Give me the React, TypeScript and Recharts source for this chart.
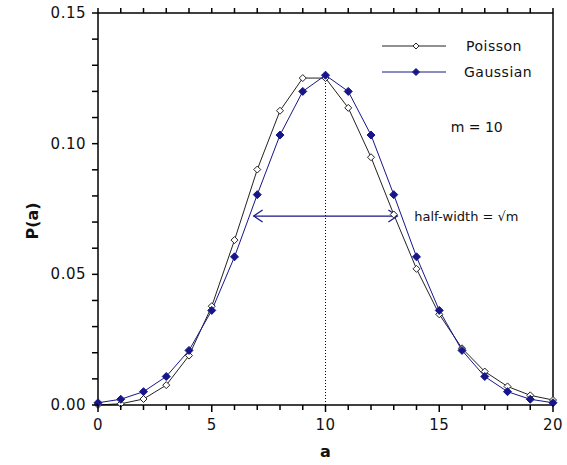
import { LineChart, Line, XAxis, YAxis, ReferenceLine, ReferenceDot, Legend } from "recharts";

const A_VALUES = [0, 1, 2, 3, 4, 5, 6, 7, 8, 9, 10, 11, 12, 13, 14, 15, 16, 17, 18, 19, 20];
const POISSON = [
  0.00005, 0.00045, 0.0023, 0.0076, 0.0189, 0.0378, 0.0631, 0.0901, 0.1126, 0.1251, 0.1251,
  0.1137, 0.0948, 0.0729, 0.0521, 0.0347, 0.0217, 0.0128, 0.0071, 0.0037, 0.0019,
];
const GAUSSIAN = [
  0.00085, 0.0022, 0.0051, 0.0109, 0.0209, 0.0362, 0.0567, 0.0805, 0.1033, 0.12, 0.1262,
  0.12, 0.1033, 0.0805, 0.0567, 0.0362, 0.0209, 0.0109, 0.0051, 0.0022, 0.00085,
];
const X_TICKS = [0, 1, 2, 3, 4, 5, 6, 7, 8, 9, 10, 11, 12, 13, 14, 15, 16, 17, 18, 19, 20];
const Y_TICKS = [
  0, 0.01, 0.02, 0.03, 0.04, 0.05, 0.06, 0.07, 0.08, 0.09, 0.1, 0.11, 0.12, 0.13, 0.14, 0.15,
];
const X_MAX = 20;
const Y_MAX = 0.15;
const MEAN = 10;
const HALF_WIDTH = 3.16;
const ARROW_Y = 0.0723;

const NAVY = "#16168a";
const INK = "#000";
const FRAME_W = 1.5;
const FONT = "'DejaVu Sans', sans-serif";

const data = A_VALUES.map((a, i) => ({ a, poisson: POISSON[i], gaussian: GAUSSIAN[i] }));

const diamond = (cx: number, cy: number, r: number) =>
  `M${cx},${cy - r} L${cx + r},${cy} L${cx},${cy + r} L${cx - r},${cy} Z`;

const PoissonDot = (props: any) => (
  <path key={`p-${props.index}`} d={diamond(props.cx, props.cy, 3.5)} fill="#fff" stroke="#222" strokeWidth={1} />
);
const GaussDot = (props: any) => (
  <path key={`g-${props.index}`} d={diamond(props.cx, props.cy, 4)} fill={NAVY} stroke={NAVY} strokeWidth={1} />
);

const XTick = (props: any) => {
  const { x, y, payload } = props;
  const major = payload.value % 5 === 0;
  return (
    <g>
      <line x1={x} y1={y} x2={x} y2={y + (major ? 7 : 5)} stroke={INK} strokeWidth={FRAME_W} />
      {major && (
        <text x={x} y={y + 20} textAnchor="middle" dominantBaseline="central" fontSize={15} fontFamily={FONT} fill="#111" letterSpacing={0.5}>
          {payload.value}
        </text>
      )}
    </g>
  );
};

const YTick = (props: any) => {
  const { x, y, payload } = props;
  const major = Math.round(payload.value * 100) % 5 === 0;
  return (
    <g>
      <line x1={x} y1={y} x2={x - 6} y2={y} stroke={INK} strokeWidth={FRAME_W} />
      {major && (
        <text x={x - 12} y={y} textAnchor="end" dominantBaseline="central" fontSize={15} fontFamily={FONT} fill="#111" letterSpacing={0.5}>
          {payload.value.toFixed(2)}
        </text>
      )}
    </g>
  );
};

// top frame line with outward ticks at every x tick
const TopFrame = (props: any) => {
  const { x1, y1, x2 } = props;
  return (
    <g stroke={INK} strokeWidth={FRAME_W}>
      <line x1={x1} y1={y1} x2={x2} y2={y1} />
      {X_TICKS.map((t) => {
        const x = x1 + ((x2 - x1) * t) / X_MAX;
        return <line key={t} x1={x} y1={y1} x2={x} y2={y1 - 5} />;
      })}
    </g>
  );
};

const Arrow = (props: any) => {
  const { x1, y1, x2, y2 } = props;
  return (
    <g stroke={NAVY} fill="none" strokeWidth={1.2}>
      <line x1={x1} y1={y1} x2={x2} y2={y2} />
      <polyline points={`${x1 + 9},${y1 - 6} ${x1},${y1} ${x1 + 9},${y1 + 6}`} />
      <polyline points={`${x2 - 9},${y2 - 6} ${x2},${y2} ${x2 - 9},${y2 + 6}`} />
    </g>
  );
};

const LegendBox = () => (
  <svg width={180} height={50}>
    <line x1={0} y1={10} x2={64} y2={10} stroke="#222" />
    <path d={diamond(34, 10, 3)} fill="#fff" stroke="#222" />
    <text x={84} y={10} dominantBaseline="central" fontSize={14} fontFamily={FONT} fill="#111" letterSpacing={0.5}>
      Poisson
    </text>
    <line x1={0} y1={36} x2={64} y2={36} stroke={NAVY} />
    <path d={diamond(34, 36, 3.5)} fill={NAVY} stroke={NAVY} />
    <text x={82} y={36} dominantBaseline="central" fontSize={14} fontFamily={FONT} fill="#111" letterSpacing={0.5}>
      Gaussian
    </text>
  </svg>
);

export default function App() {
  return (
    <div style={{ position: "absolute", left: 0, top: 0 }}>
      <LineChart width={567} height={465} data={data} margin={{ top: 13, right: 14, left: 0, bottom: 0 }}>
        <XAxis
          dataKey="a"
          type="number"
          domain={[0, X_MAX]}
          ticks={X_TICKS}
          interval={0}
          height={60}
          tickSize={0}
          tickMargin={0}
          tickLine={false}
          axisLine={{ stroke: INK, strokeWidth: FRAME_W }}
          tick={<XTick />}
          label={(p: any) => {
            const vb = p.viewBox;
            return (
              <text x={vb.x + vb.width / 2} y={vb.y + 46} textAnchor="middle" dominantBaseline="central" fontSize={16} fontWeight="bold" fontFamily={FONT} fill="#111">
                a
              </text>
            );
          }}
        />
        <YAxis
          type="number"
          domain={[0, Y_MAX]}
          ticks={Y_TICKS}
          interval={0}
          width={98}
          tickSize={0}
          tickMargin={0}
          tickLine={false}
          axisLine={{ stroke: INK, strokeWidth: FRAME_W }}
          tick={<YTick />}
          label={(p: any) => {
            const vb = p.viewBox;
            const cx = 32;
            const cy = vb.y + vb.height / 2 + 12;
            return (
              <text x={cx} y={cy} transform={`rotate(-90 ${cx} ${cy})`} textAnchor="middle" dominantBaseline="central" fontSize={16} fontWeight="bold" fontFamily={FONT} fill="#111">
                P(a)
              </text>
            );
          }}
        />
        <ReferenceLine x={X_MAX} stroke={INK} strokeWidth={FRAME_W} />
        <ReferenceLine y={Y_MAX} shape={<TopFrame />} />
        <ReferenceLine segment={[{ x: MEAN, y: 0 }, { x: MEAN, y: 0.1251 }]} stroke={INK} strokeDasharray="1 2" />
        <ReferenceLine
          segment={[{ x: MEAN - HALF_WIDTH, y: ARROW_Y }, { x: MEAN + HALF_WIDTH, y: ARROW_Y }]}
          shape={<Arrow />}
        />
        <ReferenceDot
          x={13.9}
          y={ARROW_Y}
          r={0}
          fill="none"
          stroke="none"
          label={(p: any) => (
            <text x={p.viewBox.x} y={p.viewBox.y} dominantBaseline="central" fontSize={13} fontFamily={FONT} fill="#111">
              half-width = √m
            </text>
          )}
        />
        <ReferenceDot
          x={15.5}
          y={0.1064}
          r={0}
          fill="none"
          stroke="none"
          label={(p: any) => (
            <text x={p.viewBox.x} y={p.viewBox.y} dominantBaseline="central" fontSize={14} fontFamily={FONT} fill="#111">
              m = 10
            </text>
          )}
        />
        <Line type="linear" dataKey="poisson" stroke="#222" strokeWidth={1} dot={PoissonDot} isAnimationActive={false} />
        <Line type="linear" dataKey="gaussian" stroke={NAVY} strokeWidth={1} dot={GaussDot} isAnimationActive={false} />
        <Legend
          layout="vertical"
          align="center"
          verticalAlign="middle"
          wrapperStyle={{ left: 382, top: 36, width: 180, height: 50 }}
          content={() => <LegendBox />}
        />
      </LineChart>
    </div>
  );
}
